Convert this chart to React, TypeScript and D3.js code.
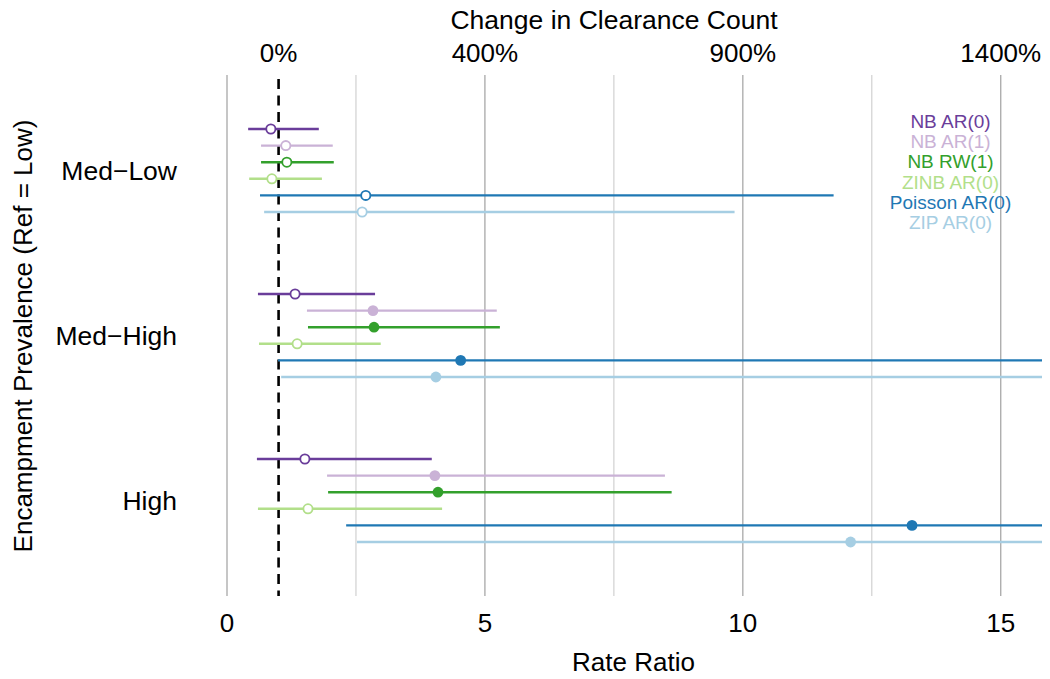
import React from "react";
import * as d3 from "d3";

// Model labels and colours (ColorBrewer "Paired")
const models = ["NB AR(0)", "NB AR(1)", "NB RW(1)", "ZINB AR(0)", "Poisson AR(0)", "ZIP AR(0)"];
const modelColors = ["#6a3d9a", "#cab2d6", "#33a02c", "#b2df8a", "#1f78b4", "#a6cee3"];

// Encampment prevalence levels (reference = Low)
const groups = ["Med\u2212Low", "Med\u2212High", "High"];

// Rate-ratio estimates per group, ordered as `models`
const estMedLow = [0.85, 1.14, 1.16, 0.87, 2.69, 2.62];
const estMedHigh = [1.32, 2.83, 2.85, 1.36, 4.53, 4.05];
const estHigh = [1.51, 4.03, 4.09, 1.57, 13.28, 12.09];

// 95% interval bounds
const lowMedLow = [0.41, 0.66, 0.66, 0.43, 0.64, 0.72];
const highMedLow = [1.78, 2.05, 2.07, 1.84, 11.76, 9.84];
const lowMedHigh = [0.6, 1.55, 1.57, 0.62, 0.99, 1.05];
const highMedHigh = [2.87, 5.23, 5.29, 2.98, 19.5, 17.8];
const lowHigh = [0.58, 1.94, 1.96, 0.6, 2.31, 2.52];
const highHigh = [3.97, 8.49, 8.62, 4.17, 48.0, 42.0];

// Whether the interval excludes 1 (filled marker)
const sigMedLow = [false, false, false, false, false, false];
const sigMedHigh = [false, true, true, false, true, true];
const sigHigh = [false, true, true, false, true, true];

const bottomTicks = [0, 5, 10, 15];
const gridTicks = [0, 2.5, 5, 7.5, 10, 12.5, 15];
const topTickValues = [1, 5, 10, 15];

const W = 1050;
const H = 679;
const margin = { left: 227, right: 8, top: 75, bottom: 81 };
const font = "'Liberation Sans', Arial, Helvetica, sans-serif";

export default function App() {
  const x = d3
    .scaleLinear()
    .domain([0, 15.8])
    .range([margin.left, W - margin.right]);

  const groupTop = d3.scaleOrdinal<string, number>().domain(groups).range([129, 294, 459]);
  const rowStep = 16.6;

  const est = [estMedLow, estMedHigh, estHigh];
  const lo = [lowMedLow, lowMedHigh, lowHigh];
  const hi = [highMedLow, highMedHigh, highHigh];
  const sig = [sigMedLow, sigMedHigh, sigHigh];

  const plotTop = margin.top;
  const plotBottom = H - margin.bottom - 2;
  const [x0, x1] = x.range();

  return (
    <svg width={W} height={H} style={{ display: "block", position: "absolute", left: 0, top: 0 }} fontFamily={font}>
      <defs>
        <clipPath id="plotClip">
          <rect x={x0} y={plotTop} width={x1 - x0} height={plotBottom - plotTop} />
        </clipPath>
      </defs>
      <rect width={W} height={H} fill="#fff" />

      {/* vertical grid */}
      {gridTicks.map((t) => (
        <line
          key={t}
          x1={x(t)}
          x2={x(t)}
          y1={plotTop}
          y2={plotBottom}
          stroke={t % 5 === 0 ? "#a8a8a8" : "#d4d4d4"}
          strokeWidth={1.3}
        />
      ))}

      {/* reference line at rate ratio 1 */}
      <line
        x1={x(1)}
        x2={x(1)}
        y1={plotTop + 4}
        y2={plotBottom}
        stroke="#000"
        strokeWidth={2.6}
        strokeDasharray="10,6.5"
      />

      {/* intervals and point estimates */}
      <g clipPath="url(#plotClip)">
        {groups.map((g, gi) =>
          models.map((m, mi) => {
            const cy = groupTop(g) + mi * rowStep;
            const c = modelColors[mi];
            return (
              <g key={g + m}>
                <line x1={x(lo[gi][mi])} x2={x(hi[gi][mi])} y1={cy} y2={cy} stroke={c} strokeWidth={2.4} />
                <circle
                  cx={x(est[gi][mi])}
                  cy={cy}
                  r={sig[gi][mi] ? 5.4 : 4.6}
                  fill={sig[gi][mi] ? c : "#fff"}
                  stroke={c}
                  strokeWidth={sig[gi][mi] ? 0 : 1.8}
                />
              </g>
            );
          })
        )}
      </g>

      {/* group labels */}
      {groups.map((g) => (
        <text
          key={g}
          x={177}
          y={groupTop(g) + rowStep * 2.5}
          textAnchor="end"
          dominantBaseline="central"
          fontSize={26.5}
          fill="#000"
        >
          {g}
        </text>
      ))}

      {/* bottom axis */}
      {bottomTicks.map((t) => (
        <text key={t} x={x(t)} y={632} textAnchor="middle" fontSize={26} fill="#000">
          {t}
        </text>
      ))}
      <text x={x(7.9) - 1} y={671} textAnchor="middle" fontSize={26} fill="#000">
        Rate Ratio
      </text>

      {/* top axis: percent change */}
      {topTickValues.map((t) => (
        <text key={t} x={x(t)} y={62} textAnchor="middle" fontSize={26} fill="#000">
          {d3.format(".0f")((t - 1) * 100) + "%"}
        </text>
      ))}
      <text x={614} y={29} textAnchor="middle" fontSize={26.5} fill="#000">
        Change in Clearance Count
      </text>

      {/* y-axis title */}
      <text
        transform={`translate(32,${336}) rotate(-90)`}
        textAnchor="middle"
        fontSize={26}
        fill="#000"
      >
        Encampment Prevalence (Ref = Low)
      </text>

      {/* legend */}
      {models.map((m, i) => (
        <text key={m} x={950.5} y={128 + i * 20.2} textAnchor="middle" fontSize={19} fill={modelColors[i]}>
          {m}
        </text>
      ))}
    </svg>
  );
}
